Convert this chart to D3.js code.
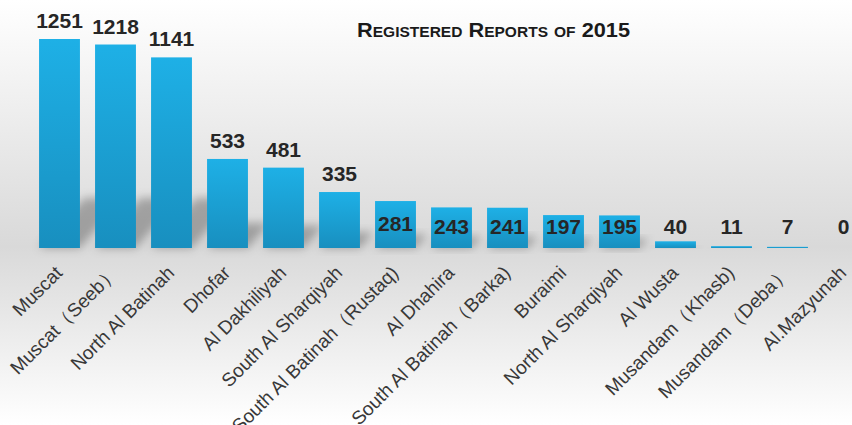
<!DOCTYPE html>
<html>
<head>
<meta charset="utf-8">
<script src="https://cdn.jsdelivr.net/npm/d3@7"></script>
<style>
  body { margin: 0; padding: 0; overflow: hidden; }
  svg { display: block; }
</style>
</head>
<body>
<div id="chart"></div>
<script>
// chart data
let regions = ["Muscat", "Muscat（Seeb）", "North Al Batinah", "Dhofar", "Al Dakhiliyah",
	"South Al Sharqiyah", "South Al Batinah（Rustaq)", "Al Dhahira", "South Al Batinah（Barka)",
	"Buraimi", "North Al Sharqiyah", "Al Wusta", "Musandam（Khasb)", "Musandam（Deba）", "Al.Mazyunah"];
let reports = [1251, 1218, 1141, 533, 481, 335, 281, 243, 241, 197, 195, 40, 11, 7, 0];
let chart_title = "Registered Reports of 2015";

const width = 852, height = 425;
const base_y = 248;

let svg = d3.select("#chart").append("svg")
	.attr("width", width)
	.attr("height", height);

let defs = svg.append("defs");

// background gradient
let bg = defs.append("linearGradient")
	.attr("id", "bg_grad")
	.attr("x1", 0).attr("y1", 0).attr("x2", 0).attr("y2", 1);
bg.append("stop").attr("offset", "0%").attr("stop-color", "#ffffff");
bg.append("stop").attr("offset", "58%").attr("stop-color", "#d9d9d9");
bg.append("stop").attr("offset", "100%").attr("stop-color", "#ffffff");

let bar_grad = defs.append("linearGradient")
	.attr("id", "bar_grad")
	.attr("x1", 0).attr("y1", 0).attr("x2", 0).attr("y2", 1);
bar_grad.append("stop").attr("offset", "0%").attr("stop-color", "#1eb0e6");
bar_grad.append("stop").attr("offset", "100%").attr("stop-color", "#188fbf");

defs.append("filter")
	.attr("id", "blur")
	.attr("x", "-50%").attr("y", "-50%").attr("width", "200%").attr("height", "200%")
	.append("feGaussianBlur")
	.attr("stdDeviation", 5);

svg.append("rect")
	.attr("width", width)
	.attr("height", height)
	.attr("fill", "url(#bg_grad)");

// scales
let x = d3.scaleBand()
	.domain(regions)
	.range([31.5, 31.5 + 56 * regions.length])
	.paddingInner(0.27)
	.paddingOuter(0.135);

let y = d3.scaleLinear()
	.domain([0, 1251])
	.range([base_y, 39]);

// shadows behind bars
svg.append("g")
	.selectAll("path")
	.data(regions)
	.join("path")
	.attr("d", (d, i) => {
		let x0 = x(d), w = x.bandwidth();
		let h = Math.min((base_y - y(reports[i])) * 0.28, 50);
		let skew = h * 0.9;
		return `M${x0},${base_y} L${x0 + w},${base_y} L${x0 + w + skew},${base_y - h} L${x0 + skew},${base_y - h} Z`;
	})
	.attr("fill", "rgba(0,0,0,0.28)")
	.attr("filter", "url(#blur)");

// bars
svg.append("g")
	.selectAll("rect")
	.data(regions)
	.join("rect")
	.attr("x", d => x(d))
	.attr("y", (d, i) => y(reports[i]))
	.attr("width", x.bandwidth())
	.attr("height", (d, i) => base_y - y(reports[i]))
	.attr("fill", "url(#bar_grad)");

// value labels: big bars get label above, small ones sit low near the baseline
function label_y(v) {
	let top = y(v);
	if (v >= 300) return top - 11;
	return Math.min(top + 30, 234);
}

svg.append("g")
	.selectAll("text")
	.data(regions)
	.join("text")
	.attr("x", d => x(d) + x.bandwidth() / 2)
	.attr("y", (d, i) => label_y(reports[i]))
	.attr("text-anchor", "middle")
	.style("font-family", "'Liberation Sans', Arial, sans-serif")
	.style("font-weight", "bold")
	.style("font-size", "21px")
	.attr("fill", "#262626")
	.text((d, i) => reports[i]);

// category labels
svg.append("g")
	.selectAll("text")
	.data(regions)
	.join("text")
	.attr("transform", d => `translate(${x(d) + x.bandwidth() / 2 + 4},${274}) rotate(-45)`)
	.attr("text-anchor", "end")
	.style("font-family", "'Liberation Sans', Arial, sans-serif")
	.style("font-size", "19px")
	.attr("fill", "#383838")
	.text(d => d);

// title
svg.append("text")
	.attr("x", 357)
	.attr("y", 37)
	.attr("textLength", 273)
	.attr("lengthAdjust", "spacingAndGlyphs")
	.style("font-family", "'Liberation Sans', Arial, sans-serif")
	.style("font-variant", "small-caps")
	.style("font-weight", "bold")
	.style("font-size", "21px")
	.attr("fill", "#1a1a1a")
	.text(chart_title);
</script>
</body>
</html>
